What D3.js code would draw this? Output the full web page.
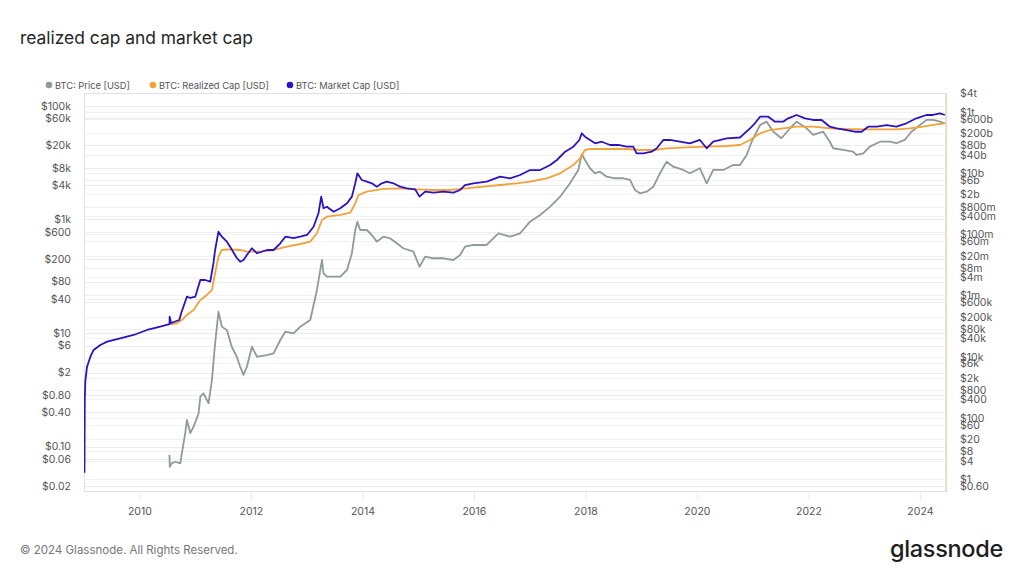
<!DOCTYPE html>
<html><head><meta charset="utf-8">
<script src="https://cdn.jsdelivr.net/npm/d3@7"></script>
<style>
html,body{margin:0;padding:0;background:#fff;}
svg{display:block;font-family:Inter,"Open Sans",sans-serif;}
</style></head>
<body><svg id="c" width="1024" height="576"></svg>
<script>
// ---------- DATA ----------
const priceSeries = [
["2010-07-17",0.0708],["2010-07-19",0.044],["2010-08-02",0.051],["2010-08-24",0.054],["2010-09-26",0.0506],
["2010-10-06",0.076],["2010-10-28",0.171],["2010-11-08",0.293],["2010-11-30",0.173],["2010-12-22",0.223],
["2011-01-24",0.385],["2011-02-04",0.754],["2011-02-25",0.865],["2011-03-30",0.577],["2011-04-21",1.48],
["2011-05-12",6.56],["2011-06-03",23.6],["2011-06-25",12.9],["2011-07-28",11.2],["2011-08-29",5.71],
["2011-10-01",3.81],["2011-10-23",2.54],["2011-11-14",1.82],["2011-12-06",2.54],["2012-01-08",5.71],
["2012-02-10",3.81],["2012-04-16",4.08],["2012-05-29",4.37],["2012-07-12",7.5],["2012-08-14",10.5],
["2012-10-07",9.84],["2012-11-20",12.9],["2013-01-24",16.9],["2013-03-09",57],["2013-04-11",192],
["2013-04-21",112],["2013-05-13",97.6],["2013-08-09",97.6],["2013-09-22",128],["2013-10-24",252],
["2013-11-15",648],["2013-11-29",907],["2013-12-17",648],["2014-01-30",648],["2014-03-04",529],
["2014-04-05",404],["2014-05-19",494],["2014-07-01",463],["2014-08-14",378],["2014-09-26",309],
["2014-12-01",269],["2015-01-10",146],["2015-02-16",220],["2015-04-11",206],["2015-06-16",206],
["2015-08-20",192],["2015-10-03",235],["2015-11-04",330],["2015-12-28",353],["2016-03-25",353],
["2016-06-10",567],["2016-08-25",494],["2016-10-30",567],["2017-01-03",907],["2017-03-10",1190],
["2017-05-15",1667],["2017-07-19",2500],["2017-09-22",4300],["2017-11-15",7380],["2017-12-08",14000],
["2017-12-29",11070],["2018-01-31",7910],["2018-03-05",6450],["2018-04-06",6890],["2018-05-20",5620],
["2018-07-13",5270],["2018-09-06",5270],["2018-10-20",4920],["2018-11-21",3280],["2018-12-24",2870],
["2019-02-06",3060],["2019-03-22",3750],["2019-05-04",6450],["2019-06-17",10330],["2019-07-30",8430],
["2019-10-04",7380],["2019-11-16",6450],["2020-01-21",7910],["2020-03-05",4300],["2020-04-17",7380],
["2020-06-22",7380],["2020-08-26",9030],["2020-10-09",9000],["2020-11-22",13550],["2020-12-25",23200],
["2021-02-18",45700],["2021-04-02",52300],["2021-05-16",34800],["2021-07-08",26700],["2021-09-02",40000],
["2021-10-16",52300],["2021-12-20",40000],["2022-02-01",30500],["2022-04-08",34800],["2022-05-21",23200],
["2022-06-12",17800],["2022-08-16",16600],["2022-10-20",15500],["2022-11-11",13550],["2022-12-26",14500],
["2023-02-06",19000],["2023-04-15",23200],["2023-06-18",23200],["2023-07-31",21800],["2023-09-23",24900],
["2023-11-06",34800],["2023-12-19",42700],["2024-02-13",56000],["2024-03-27",56000],["2024-05-11",52300],
["2024-06-13",49000]
];

const realizedCapSeries = [
["2010-07-17",1.15e5],["2010-09-04",1.24e5],["2010-10-06",1.58e5],["2010-11-08",2.31e5],["2010-12-22",3.36e5],
["2011-02-04",7.13e5],["2011-03-19",1.04e6],["2011-04-21",1.51e6],["2011-05-12",5.44e6],["2011-06-03",1.85e7],
["2011-06-25",3.07e7],["2011-07-28",3.24e7],["2011-10-23",3.07e7],["2011-12-06",2.70e7],["2012-03-04",2.70e7],
["2012-05-29",3.07e7],["2012-08-25",3.94e7],["2012-11-20",4.82e7],["2013-01-24",5.74e7],["2013-03-09",1.08e8],
["2013-04-11",2.94e8],["2013-05-13",3.77e8],["2013-08-09",4.28e8],["2013-10-13",5.08e8],["2013-11-15",1.03e9],
["2013-12-06",1.93e9],["2014-01-30",2.47e9],["2014-05-19",3.03e9],["2014-09-05",3.19e9],["2014-12-23",2.96e9],
["2015-04-11",2.81e9],["2015-07-29",2.81e9],["2015-11-15",3.19e9],["2016-03-03",3.60e9],["2016-06-21",4.08e9],
["2016-10-08",4.64e9],["2017-01-03",5.24e9],["2017-04-23",6.76e9],["2017-07-19",9.86e9],["2017-10-14",1.84e10],
["2017-11-27",3.05e10],["2017-12-29",5.69e10],["2018-01-31",6.14e10],["2018-05-20",6.14e10],["2018-09-28",6.14e10],
["2018-12-24",5.69e10],["2019-03-22",5.69e10],["2019-06-17",6.47e10],["2019-10-26",6.97e10],["2020-03-05",7.30e10],
["2020-07-14",7.69e10],["2020-10-09",8.30e10],["2020-12-14",1.21e11],["2021-02-18",2.0e11],["2021-04-24",2.56e11],
["2021-07-19",2.91e11],["2021-10-16",3.28e11],["2022-02-01",3.28e11],["2022-05-21",2.91e11],["2022-09-08",2.76e11],
["2022-12-26",2.70e11],["2023-04-15",2.70e11],["2023-07-31",2.70e11],["2023-10-27",2.91e11],["2024-01-21",3.28e11],
["2024-04-19",3.94e11],["2024-06-13",4.24e11]
];

const marketCapSeries = [
["2009-01-06",1.6],["2009-01-08",384],["2009-01-12",1656],["2009-01-23",4720],["2009-02-14",10000],
["2009-03-07",16600],["2009-04-20",24200],["2009-06-03",31000],["2009-08-28",40000],["2009-11-24",51200],
["2010-02-20",74600],["2010-05-18",95800],["2010-07-17",115000],["2010-07-18",203000],["2010-07-28",126000],
["2010-09-19",158000],["2010-10-02",268000],["2010-11-08",914000],["2010-11-30",830000],["2011-01-02",914000],
["2011-02-04",3.21e6],["2011-03-08",3.21e6],["2011-04-10",2.83e6],["2011-05-01",1.15e7],["2011-05-12",3.07e7],
["2011-06-03",1.22e8],["2011-06-25",8.36e7],["2011-07-28",5.74e7],["2011-08-18",3.94e7],["2011-10-01",1.68e7],
["2011-10-23",1.27e7],["2011-11-14",1.45e7],["2011-12-06",2.11e7],["2012-01-08",3.49e7],["2012-02-10",2.40e7],
["2012-04-16",3.07e7],["2012-05-29",3.07e7],["2012-07-12",5.08e7],["2012-08-14",8.36e7],["2012-10-07",7.5e7],
["2012-11-20",8.36e7],["2013-01-03",9.5e7],["2013-02-15",1.77e8],["2013-03-19",4.86e8],["2013-04-06",1.70e9],
["2013-04-21",7.08e8],["2013-05-13",7.98e8],["2013-06-26",5.48e8],["2013-08-09",7.08e8],["2013-09-22",1.03e9],
["2013-10-24",1.70e9],["2013-11-15",4.64e9],["2013-11-29",9.86e9],["2013-12-28",5.96e9],["2014-01-30",5.24e9],
["2014-03-04",4.64e9],["2014-04-05",3.60e9],["2014-05-08",4.64e9],["2014-06-10",5.24e9],["2014-07-23",4.64e9],
["2014-09-05",3.60e9],["2014-10-19",3.19e9],["2014-12-12",2.96e9],["2015-01-10",1.70e9],["2015-02-16",2.47e9],
["2015-04-11",2.29e9],["2015-06-16",2.47e9],["2015-08-20",2.29e9],["2015-10-03",2.81e9],["2015-11-04",4.08e9],
["2015-12-28",4.64e9],["2016-03-25",5.24e9],["2016-06-21",7.64e9],["2016-08-25",6.76e9],["2016-10-30",8.67e9],
["2017-01-03",1.26e10],["2017-03-10",1.26e10],["2017-05-15",1.84e10],["2017-06-28",2.68e10],["2017-08-21",5.01e10],
["2017-10-14",7.30e10],["2017-11-22",1.21e11],["2017-12-08",2.0e11],["2017-12-29",1.55e11],["2018-01-31",1.21e11],
["2018-03-05",9.42e10],["2018-04-18",1.06e11],["2018-06-11",8.30e10],["2018-08-04",8.30e10],["2018-09-28",7.30e10],
["2018-11-10",7.30e10],["2018-12-02",4.44e10],["2019-01-15",4.44e10],["2019-03-11",5.01e10],["2019-04-13",6.47e10],
["2019-05-26",1.21e11],["2019-07-08",1.21e11],["2019-09-12",1.06e11],["2019-11-16",9.42e10],["2020-01-21",1.21e11],
["2020-03-05",6.47e10],["2020-04-17",1.06e11],["2020-07-14",1.37e11],["2020-10-09",1.46e11],["2020-12-14",2.91e11],
["2021-01-15",4.24e11],["2021-02-18",6.97e11],["2021-04-13",6.97e11],["2021-05-27",4.79e11],["2021-07-19",4.79e11],
["2021-08-21",6.18e11],["2021-10-16",7.93e11],["2021-12-09",6.18e11],["2022-02-01",5.45e11],["2022-03-28",5.45e11],
["2022-05-21",3.28e11],["2022-07-04",2.91e11],["2022-09-08",2.56e11],["2022-11-01",2.25e11],["2022-12-15",2.25e11],
["2023-01-27",3.28e11],["2023-03-24",3.28e11],["2023-05-28",3.73e11],["2023-07-31",3.28e11],["2023-10-05",4.24e11],
["2023-12-09",6.18e11],["2024-02-13",7.93e11],["2024-03-27",7.93e11],["2024-05-11",9.0e11],["2024-06-13",7.93e11]
];

const leftTickValues = [1e5,6e4,2e4,8e3,4e3,1e3,600,200,80,40,10,6,2,0.8,0.4,0.1,0.06,0.02];
const leftTickLabels = ["$100k","$60k","$20k","$8k","$4k","$1k","$600","$200","$80","$40","$10","$6","$2","$0.80","$0.40","$0.10","$0.06","$0.02"];
const rightTickValues = [4e12,1e12,6e11,2e11,8e10,4e10,1e10,6e9,2e9,8e8,4e8,1e8,6e7,2e7,8e6,4e6,1e6,6e5,2e5,8e4,4e4,1e4,6e3,2e3,800,400,100,60,20,8,4,1,0.6];
const rightTickLabels = ["$4t","$1t","$600b","$200b","$80b","$40b","$10b","$6b","$2b","$800m","$400m","$100m","$60m","$20m","$8m","$4m","$1m","$600k","$200k","$80k","$40k","$10k","$6k","$2k","$800","$400","$100","$60","$20","$8","$4","$1","$0.60"];
const xTickYears = [2010,2012,2014,2016,2018,2020,2022,2024];
const seriesNames = ["BTC: Price [USD]","BTC: Realized Cap [USD]","BTC: Market Cap [USD]"];
const seriesColors = ["#8e9b97","#f2a23a","#2c13c2"];
const xDomain = ["2009-01-03","2024-06-20"];
const leftDomain = [0.0165, 167000];
const rightDomain = [0.408, 4.15e12];

// ---------- LAYOUT ----------
const svg = d3.select("#c");
const M = {l:84, r:946, t:93, b:491};
const parse = d3.utcParse("%Y-%m-%d");
const x = d3.scaleUtc().domain(xDomain.map(parse)).range([M.l, M.r]);
const yL = d3.scaleLog().domain(leftDomain).range([M.b, M.t]);
const yR = d3.scaleLog().domain(rightDomain).range([M.b, M.t]);

// title
svg.append("text").attr("x",20).attr("y",44).text("realized cap and market cap")
  .attr("font-size",17.4).attr("fill","#262626");

// legend
const legX = [49,153,290];
seriesNames.forEach((n,i)=>{
  svg.append("circle").attr("cx",legX[i]).attr("cy",85).attr("r",3.3).attr("fill",seriesColors[i]);
  svg.append("text").attr("x",legX[i]+6).attr("y",88.5).text(n).attr("font-size",9.3).attr("fill","#555");
});

// gridlines
const g = svg.append("g");
g.selectAll("line.gr").data(rightTickValues).join("line")
  .attr("x1",M.l).attr("x2",M.r).attr("y1",d=>Math.round(yR(d))+0.5).attr("y2",d=>Math.round(yR(d))+0.5)
  .attr("stroke","#f1f1f1").attr("stroke-width",1);
g.selectAll("line.gl").data(leftTickValues).join("line")
  .attr("x1",M.l).attr("x2",M.r).attr("y1",d=>Math.round(yL(d))+0.5).attr("y2",d=>Math.round(yL(d))+0.5)
  .attr("stroke","#ececec").attr("stroke-width",1);

// frame
svg.append("rect").attr("x",M.l+0.5).attr("y",M.t+0.5).attr("width",M.r-M.l-1).attr("height",M.b-M.t)
  .attr("fill","none").attr("stroke","#e2e2e2");
svg.append("line").attr("x1",M.r+0.5).attr("x2",M.r+0.5).attr("y1",M.t).attr("y2",M.b+1)
  .attr("stroke","#f7d7ad").attr("stroke-width",1);

// x axis
const xAxis = d3.axisBottom(x).tickValues(xTickYears.map(yv=>new Date(Date.UTC(yv,0,1))))
  .tickFormat(d3.utcFormat("%Y")).tickSize(9).tickPadding(7);
const gx = svg.append("g").attr("transform",`translate(0,${M.b+1})`).call(xAxis);
gx.select(".domain").remove();
gx.selectAll(".tick line").attr("stroke","#ececec");
gx.selectAll(".tick text").attr("font-size",10.5).attr("fill","#555").attr("font-family","Inter,sans-serif");

// left axis
const leftAxis = d3.axisLeft(yL).tickValues(leftTickValues)
  .tickFormat((d,i)=>leftTickLabels[i]).tickSize(0).tickPadding(13);
const gl = svg.append("g").attr("transform",`translate(${M.l},0)`).call(leftAxis);
gl.select(".domain").remove();
gl.selectAll(".tick text").attr("font-size",10.5).attr("fill","#555").attr("font-family","Inter,sans-serif");

// right axis
const rightAxis = d3.axisRight(yR).tickValues(rightTickValues)
  .tickFormat((d,i)=>rightTickLabels[i]).tickSize(0).tickPadding(14);
const gr = svg.append("g").attr("transform",`translate(${M.r},0)`).call(rightAxis);
gr.select(".domain").remove();
gr.selectAll(".tick text").attr("font-size",10.5).attr("fill","#555").attr("font-family","Inter,sans-serif");

// lines
const clip = svg.append("clipPath").attr("id","pc").append("rect")
  .attr("x",M.l).attr("y",M.t).attr("width",M.r-M.l).attr("height",M.b-M.t);
const plot = svg.append("g").attr("clip-path","url(#pc)");
const lineL = d3.line().x(d=>x(parse(d[0]))).y(d=>yL(d[1]));
const lineR = d3.line().x(d=>x(parse(d[0]))).y(d=>yR(d[1]));
plot.append("path").datum(priceSeries).attr("d",lineL).attr("fill","none")
  .attr("stroke",seriesColors[0]).attr("stroke-width",1.8).attr("stroke-linejoin","round");
plot.append("path").datum(realizedCapSeries).attr("d",lineR).attr("fill","none")
  .attr("stroke",seriesColors[1]).attr("stroke-width",1.8).attr("stroke-linejoin","round");
plot.append("path").datum(marketCapSeries).attr("d",lineR).attr("fill","none")
  .attr("stroke",seriesColors[2]).attr("stroke-width",1.8).attr("stroke-linejoin","round");

// footer
svg.append("text").attr("x",20).attr("y",554).text("© 2024 Glassnode. All Rights Reserved.")
  .attr("font-size",11.5).attr("fill","#777");
svg.append("text").attr("x",1003).attr("y",557).attr("text-anchor","end").text("glassnode")
  .attr("font-size",23.5).attr("font-weight",500).attr("fill","#1e1e1e").attr("letter-spacing",-0.3);
</script>
</body></html>
